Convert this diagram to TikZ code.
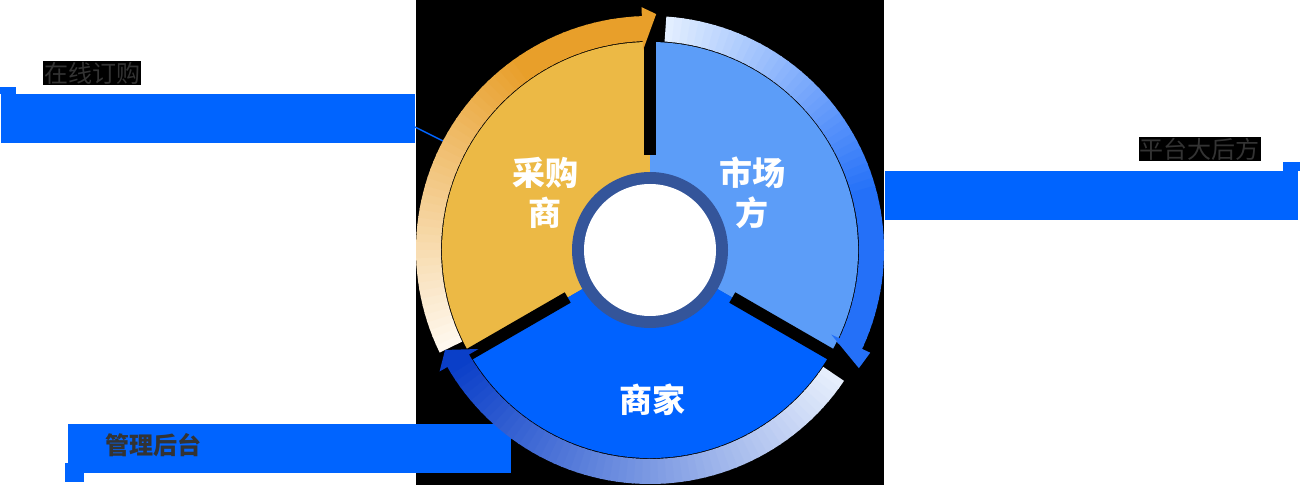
\documentclass[tikz,border=0pt]{standalone}
\usepackage{fontspec}
\newfontfamily\cjk{Noto Sans CJK SC}
\begin{document}
\begin{tikzpicture}[x=1pt,y=1pt,
  bar/.style={fill=barblue},
  lab/.style={font=\cjk\fontsize{24}{24}\selectfont, text=labgray, inner sep=1pt},
  sect/.style={font=\cjk\bfseries\fontsize{33}{40}\selectfont, text=white, align=center}]
\definecolor{barblue}{HTML}{0064FF}
\definecolor{labgray}{HTML}{333333}
\definecolor{yel}{HTML}{ECB945}
\definecolor{lblue}{HTML}{5C9DF8}
\definecolor{dblue}{HTML}{0062FF}
\definecolor{hub}{HTML}{34559A}
\definecolor{yA}{HTML}{FFF8EE}
\definecolor{yB}{HTML}{E89F2A}
\definecolor{lA}{HTML}{E2EEFF}
\definecolor{lB}{HTML}{2470F8}
\definecolor{dA}{HTML}{E6EEFC}
\definecolor{dB}{HTML}{0A3FC8}
\useasboundingbox (0,0) rectangle (1301,485);
\fill[white] (0,0) rectangle (1301,485);
\fill[black] (416,0) rectangle (884,485);
% bars
\fill[bar] (1,342) rectangle (415,391);
\fill[bar] (0,391) rectangle (16,398);
\node[lab, fill=black, anchor=west] (l1) at (43,412) {在线订购};
\fill[bar] (885,265) rectangle (1298,314);
\fill[bar] (1283,314) rectangle (1300,323);
\node[lab, fill=black, anchor=east] (l2) at (1261,336) {平台大后方};
\fill[bar] (68,12) rectangle (511,61);
\fill[bar] (65,3) rectangle (84,22);
\node[lab, font=\cjk\bfseries\fontsize{24}{24}\selectfont, anchor=west] (l3) at (104,39.5) {管理后台};
\coordinate (c1) at (415,358);
\coordinate (c2) at (443,344);
\draw[barblue, line width=1.5pt] (c1) -- (c2);
\begin{scope}[shift={(650,235)}]
\fill[hub] (0,0) circle (95);
\fill[yel] (0,0) -- (90:208) arc[start angle=90,end angle=210,radius=208] -- cycle;
\fill[lblue] (0,0) -- (-30:208) arc[start angle=-30,end angle=90,radius=208] -- cycle;
\fill[dblue] (0,0) -- (210:208) arc[start angle=210,end angle=330,radius=208] -- cycle;
\foreach \a in {90,-30,210} \draw[black, line width=12pt] (\a:95) -- (\a:245);
\fill[hub] (0,0) circle (78);
\fill[white] (0,0) circle (66);
% yellow ring: 206 -> 92
\foreach \i in {0,...,56} {
  \pgfmathsetmacro\a{206-2*\i}\pgfmathsetmacro\b{\a-2.4}
  \pgfmathsetmacro\p{min(100,\i*100/40)}
  \colorlet{tmp}{yB!\p!yA}
  \fill[tmp] (\a:209) arc[start angle=\a,end angle=\b,radius=209] -- (\b:234) arc[start angle=\b,end angle=\a,radius=234] -- cycle;}
\fill[yB] (92:200) -- (92:243) -- (88.5:236) -- cycle;
% light blue ring: 86 -> -26
\foreach \i in {0,...,55} {
  \pgfmathsetmacro\a{86-2*\i}\pgfmathsetmacro\b{\a-2.4}
  \pgfmathsetmacro\p{min(100,\i*100/35)}
  \colorlet{tmp}{lB!\p!lA}
  \fill[tmp] (\a:209) arc[start angle=\a,end angle=\b,radius=209] -- (\b:234) arc[start angle=\b,end angle=\a,radius=234] -- cycle;}
\fill[lB] (-25:200) -- (-25:243) -- (-29.5:240) -- cycle;
% dark blue ring: -34 -> -150
\foreach \i in {0,...,57} {
  \pgfmathsetmacro\a{-34-2*\i}\pgfmathsetmacro\b{\a-2.4}
  \pgfmathsetmacro\p{\i*100/57}
  \colorlet{tmp}{dB!\p!dA}
  \fill[tmp] (\a:209) arc[start angle=\a,end angle=\b,radius=209] -- (\b:234) arc[start angle=\b,end angle=\a,radius=234] -- cycle;}
\fill[dB] (-150:198) -- (-150:243) -- (-154:228) -- cycle;
\node[sect] (s1) at (-105,57) {采购\\商};
\node[sect] (s2) at (102,57) {市场\\方};
\node[sect] (s3) at (2,-150) {商家};
\end{scope}
\end{tikzpicture}
\end{document}
